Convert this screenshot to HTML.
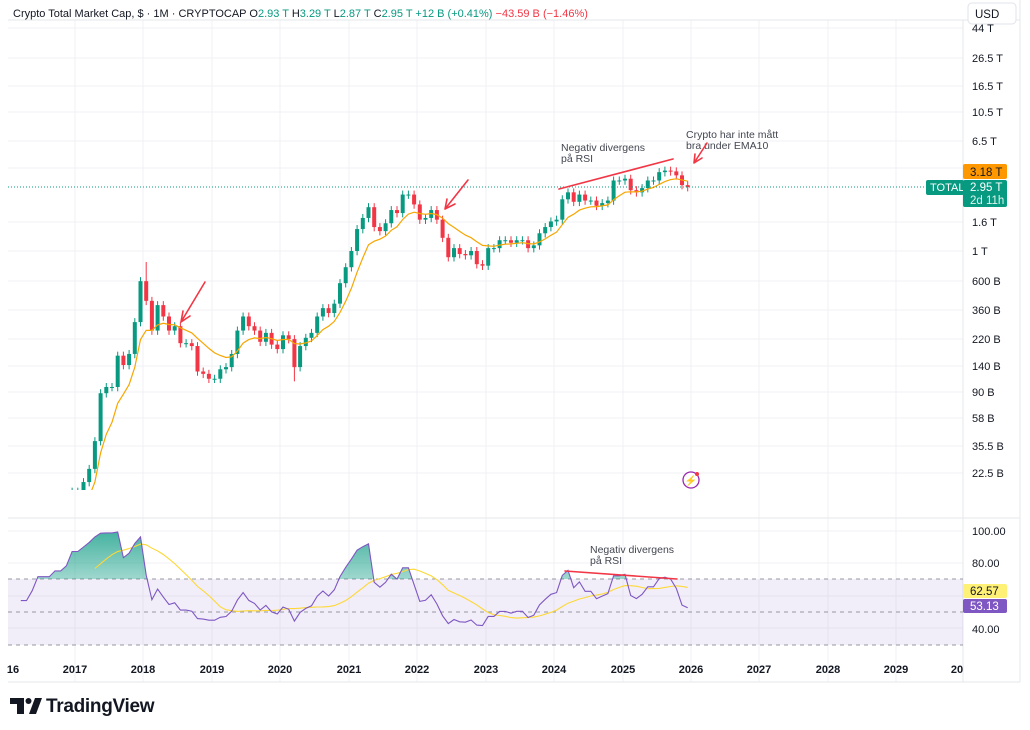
<!DOCTYPE html>
<html><head><meta charset="utf-8">
<style>
html,body{margin:0;padding:0;background:#fff;width:1030px;height:730px;overflow:hidden;font-family:"Liberation Sans",sans-serif;}
svg{position:absolute;left:0;top:0}
</style></head>
<body>
<svg id="s" width="1030" height="730" viewBox="0 0 1030 730" xmlns="http://www.w3.org/2000/svg" font-family="Liberation Sans, sans-serif">
<rect x="0" y="0" width="1030" height="730" fill="#fff"/>
<g id="grid" stroke="#f0f1f4" stroke-width="1"></g>
<line x1="8" y1="20" x2="1020" y2="20" stroke="#e6e7ea"/>
<line x1="8" y1="518" x2="1020" y2="518" stroke="#e6e7ea"/>
<line x1="8" y1="682" x2="1020" y2="682" stroke="#e6e7ea"/>
<line x1="963" y1="20" x2="963" y2="682" stroke="#e6e7ea"/>
<line x1="1020" y1="0" x2="1020" y2="682" stroke="#e6e7ea"/>
<rect x="8" y="579" width="955" height="66" fill="#7e57c2" fill-opacity="0.1"/>
<g stroke="#9598a1" stroke-dasharray="4,4" stroke-width="1">
<line x1="8" y1="579" x2="963" y2="579"/><line x1="8" y1="612" x2="963" y2="612"/><line x1="8" y1="645" x2="963" y2="645"/>
</g>
<g id="candles"></g>
<g id="rsi"></g>
<line x1="8" y1="187" x2="963" y2="187" stroke="#089981" stroke-dasharray="1,2" stroke-width="1"/>
<text x="13" y="17" font-size="11" fill="#131722">Crypto Total Market Cap, $ · 1M · CRYPTOCAP <tspan>O</tspan><tspan fill="#089981">2.93 T</tspan> <tspan>H</tspan><tspan fill="#089981">3.29 T</tspan> <tspan>L</tspan><tspan fill="#089981">2.87 T</tspan> <tspan>C</tspan><tspan fill="#089981">2.95 T</tspan> <tspan fill="#089981">+12 B (+0.41%)</tspan> <tspan fill="#f23645">−43.59 B (−1.46%)</tspan></text>
<rect x="968" y="3" width="48" height="21" rx="4" fill="#fff" stroke="#e0e3eb"/>
<text x="975" y="18" font-size="11.5" fill="#131722">USD</text>
<g font-size="11" fill="#131722" text-anchor="start">
<text x="972" y="32">44 T</text><text x="972" y="62">26.5 T</text><text x="972" y="90">16.5 T</text><text x="972" y="116">10.5 T</text><text x="972" y="145">6.5 T</text><text x="972" y="172">4.1 T</text><text x="972" y="226">1.6 T</text><text x="972" y="255">1 T</text><text x="972" y="285">600 B</text><text x="972" y="314">360 B</text><text x="972" y="343">220 B</text><text x="972" y="370">140 B</text><text x="972" y="396">90 B</text><text x="972" y="422">58 B</text><text x="972" y="450">35.5 B</text><text x="972" y="477">22.5 B</text>
<text x="972" y="535">100.00</text><text x="972" y="567">80.00</text><text x="972" y="633">40.00</text>
</g>
<rect x="963" y="164" width="44" height="15" rx="2" fill="#ff9800"/>
<text x="970" y="176" font-size="11.5" fill="#131722">3.18 T</text>
<rect x="926" y="180" width="38" height="15" rx="2" fill="#089981"/>
<text x="930" y="191" font-size="11" fill="#fff">TOTAL</text>
<rect x="963" y="180" width="44" height="27" rx="2" fill="#089981"/>
<text x="970" y="191" font-size="11.5" fill="#fff">2.95 T</text>
<text x="970" y="204" font-size="11.5" fill="#dff5ee">2d 11h</text>
<rect x="963" y="584" width="44" height="14" rx="2" fill="#fff176"/>
<text x="970" y="595" font-size="11.5" fill="#131722">62.57</text>
<rect x="963" y="599" width="44" height="14" rx="2" fill="#7e57c2"/>
<text x="970" y="610" font-size="11.5" fill="#fff">53.13</text>
<g font-size="11" font-weight="bold" fill="#131722" text-anchor="middle">
<text x="13" y="673">16</text><text x="75" y="673">2017</text><text x="143" y="673">2018</text><text x="212" y="673">2019</text><text x="280" y="673">2020</text><text x="349" y="673">2021</text><text x="417" y="673">2022</text><text x="486" y="673">2023</text><text x="554" y="673">2024</text><text x="623" y="673">2025</text><text x="691" y="673">2026</text><text x="759" y="673">2027</text><text x="828" y="673">2028</text><text x="896" y="673">2029</text><text x="957" y="673">20</text>
</g>
<g font-size="10.5" fill="#434651">
<text x="561" y="151">Negativ divergens</text><text x="561" y="162">på RSI</text>
<text x="686" y="138">Crypto har inte mått</text><text x="686" y="149">bra under EMA10</text>
<text x="590" y="553">Negativ divergens</text><text x="590" y="564">på RSI</text>
</g>
<g stroke="#f23645" stroke-width="1.6" fill="none" stroke-linecap="round">
<line x1="559" y1="189" x2="673" y2="159"/>
<line x1="565" y1="571" x2="677" y2="579"/>
<path d="M205,282 L181,322 M181,322 L183,311 M181,322 L190,316"/>
<path d="M468,180 L445,209 M445,209 L447,199 M445,209 L455,204"/>
<path d="M707,143 L694,163 M694,163 L695,154 M694,163 L702,158"/>
</g>
<circle cx="691" cy="480" r="8" fill="#fff" stroke="#9c27b0" stroke-width="1.3"/>
<text x="691" y="484" font-size="10" fill="#9c27b0" text-anchor="middle">⚡</text>
<circle cx="697" cy="474" r="2" fill="#f23645"/>
<rect x="10" y="698" width="14" height="6" fill="#131722"/><rect x="17" y="698" width="7" height="16" fill="#131722"/>
<circle cx="28.5" cy="701" r="3" fill="#131722"/><path d="M29,714 L35,698 L42,698 L36,714 Z" fill="#131722"/>
<text x="46" y="712" font-size="19" font-weight="bold" fill="#131722" letter-spacing="-0.3">TradingView</text>
</svg>
<script>
(function(){
var NS="http://www.w3.org/2000/svg";
function el(t,a,p){var e=document.createElementNS(NS,t);for(var k in a)e.setAttribute(k,a[k]);p.appendChild(e);return e;}
var grid=document.getElementById('grid');
[75,143,212,280,349,417,486,554,623,691,759,828,896].forEach(function(x){el('line',{x1:x,y1:20,x2:x,y2:682},grid);});
[28,58,86,112,141,168,222,251,281,310,339,366,392,418,446,473,531,563,596,628].forEach(function(y){el('line',{x1:8,y1:y,x2:963,y2:y},grid);});
var c=[6,5,5,5,5,5,6,5,5,5,7,7, 7,6,7,7,8,10,10,10,11,11,12,17,
17,20,25,40,90,100,100,170,145,175,300,600,
430,260,400,330,260,280,210,210,200,130,125,115,
115,135,140,175,260,330,280,260,215,250,205,190,
240,225,140,200,230,250,330,380,350,410,580,760,
1000,1450,1750,2100,1500,1400,1600,2000,1900,2600,2600,2200,
1700,1750,2000,1700,1250,900,1050,950,930,1000,800,780,
1050,1050,1200,1200,1150,1200,1200,1050,1100,1350,1500,1650,
1700,2400,2700,2300,2600,2350,2350,2150,2250,2350,3300,3300,
3400,2800,2700,2900,3300,3300,3800,3900,3850,3600,3050,2950];
var start=2015;
function X(i){return 75+((start+i/12)-2017)*68.4+2.8;}
function Y(v){return 251-136*Math.log10(v/1000);}
var svg=document.getElementById('s');
var g=document.getElementById('candles');
var defs=el('defs',{},svg);
var cp=el('clipPath',{id:'cm'},defs);el('rect',{x:8,y:21,width:955,height:469},cp);
var cr=el('clipPath',{id:'cr'},defs);el('rect',{x:8,y:519,width:955,height:140},cr);
g.setAttribute('clip-path','url(#cm)');
var ema=[],k=2/11,e=c[0];
for(var i=0;i<c.length;i++){
  var o=i?c[i-1]:c[i],cl=c[i];
  var hi=Math.max(o,cl)*1.07,lo=Math.min(o,cl)*0.93;
  if(i==36){hi=830;} if(i==62){lo=110;}
  var up=cl>=o,col=up?'#089981':'#f23645',x=X(i);
  if(x>8){
  el('line',{x1:x,y1:Y(hi),x2:x,y2:Y(lo),stroke:col,'stroke-width':1},g);
  var y1=Y(Math.max(o,cl)),y2=Y(Math.min(o,cl));
  el('rect',{x:x-2,y:y1,width:4,height:Math.max(1,y2-y1),fill:col},g);}
  e=i?cl*k+e*(1-k):cl;ema.push(e);
}
var p='';for(i=0;i<c.length;i++){if(X(i)<8)continue;p+=(p?'L':'M')+X(i).toFixed(1)+','+Y(ema[i]).toFixed(1);}
el('path',{d:p,stroke:'#f7a600',fill:'none','stroke-width':1.2},g);
var ag=0,al=0,rsi=[],n=14;
for(i=1;i<c.length;i++){var d=c[i]-c[i-1];var gn=Math.max(d,0),ls=Math.max(-d,0);
 if(i<=n){ag+=gn/n;al+=ls/n;}else{ag=(ag*(n-1)+gn)/n;al=(al*(n-1)+ls)/n;}
 rsi[i]=i>=n?100-100/(1+ag/(al||1e-9)):null;}
function RY(v){return 531+(100-v)*1.625;}
var r=document.getElementById('rsi');r.setAttribute('clip-path','url(#cr)');
var pts=[];for(i=n;i<c.length;i++){if(X(i)<6)continue;pts.push([X(i),RY(rsi[i])]);}
var clp=el('clipPath',{id:'ab'},defs);el('rect',{x:8,y:519,width:955,height:60},clp);
var gr=el('linearGradient',{id:'gg',x1:0,y1:0,x2:0,y2:1},defs);
el('stop',{offset:'0','stop-color':'#089981','stop-opacity':0.75},gr);el('stop',{offset:'1','stop-color':'#089981','stop-opacity':0.03},gr);
var fd='M'+pts[0][0]+',579';pts.forEach(function(q){fd+='L'+q[0].toFixed(1)+','+q[1].toFixed(1);});fd+='L'+pts[pts.length-1][0]+',579Z';
el('path',{d:fd,fill:'url(#gg)','clip-path':'url(#ab)'},r);
var ma=[];for(i=n+13;i<c.length;i++){var s=0;for(var j=0;j<14;j++)s+=rsi[i-j];ma.push([X(i),RY(s/14)]);}
var md='';ma.forEach(function(q){if(q[0]<8)return;md+=(md?'L':'M')+q[0].toFixed(1)+','+q[1].toFixed(1);});
el('path',{d:md,stroke:'#fdd835',fill:'none','stroke-width':1.1},r);
var rd='';pts.forEach(function(q){rd+=(rd?'L':'M')+q[0].toFixed(1)+','+q[1].toFixed(1);});
el('path',{d:rd,stroke:'#7e57c2',fill:'none','stroke-width':1.1},r);
})();
</script>
</body></html>
